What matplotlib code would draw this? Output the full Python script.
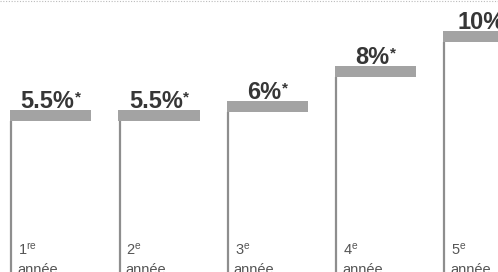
import numpy as np
import matplotlib
matplotlib.use('Agg')
import matplotlib.pyplot as plt
import matplotlib.transforms as mtransforms

# tweak matplotlib settings
plt.rcParams['font.family'] = 'Liberation Sans'
plt.rcParams['mathtext.fontset'] = 'custom'
plt.rcParams['mathtext.rm'] = 'Liberation Sans'
plt.rcParams['mathtext.it'] = 'Liberation Sans'

# data
years = [1, 2, 3, 4, 5]
suffixes = ['re', 'e', 'e', 'e', 'e']
rates = np.array([5.5, 5.5, 6, 8, 10])
value_labels = ['5.5%', '5.5%', '6%', '8%', '10%']

# layout
x = np.arange(len(years)) * 1.0
width = 0.75
cap = 0.62
base = -5.0

fig = plt.figure(figsize=(4.98, 2.72), dpi=100)
ax = fig.add_axes([0, 0, 1, 1])
ax.set_xlim(-0.092, 4.506)
ax.set_ylim(-3.7, 11.75)
ax.axis('off')

# thin left edge of each column
ax.vlines(x + 0.012, base, rates - cap, color='#8e8e8e', lw=1.6)
# thick grey cap on top
ax.bar(x, cap, width=width, bottom=rates - cap, align='edge', color='#a3a3a3', lw=0)

# value labels above caps: number in bold plus a small raised asterisk
renderer = fig.canvas.get_renderer()
for xi, r, s in zip(x, rates, value_labels):
    num = ax.annotate(s, (xi + width / 2, r), xytext=(0, 1.6), textcoords='offset points',
                      ha='left', va='baseline', fontsize=17, fontweight='bold', color='#363636')
    star = ax.annotate('*', (xi + width / 2, r), xytext=(0, 6.5), textcoords='offset points',
                       ha='left', va='baseline', fontsize=11, fontweight='bold', color='#363636')
    wn = num.get_window_extent(renderer).width * 72 / fig.dpi
    ws = star.get_window_extent(renderer).width * 72 / fig.dpi
    left = -(wn + ws) / 2
    num.xyann = (left, 1.6)
    star.xyann = (left + wn + 0.3, 6.5)

# year labels at the bottom
trans = mtransforms.blended_transform_factory(ax.transData, ax.transAxes)
for xi, yr, suf in zip(x, years, suffixes):
    ax.text(xi + 0.075, 0.0625, r'%d$^{\mathrm{%s}}$' % (yr, suf), transform=trans,
            ha='left', va='baseline', fontsize=10.5, color='#555555')
    ax.text(xi + 0.065, -0.008, 'année', transform=trans,
            ha='left', va='baseline', fontsize=10.5, color='#555555')

# dotted line at the top
ax.axhline(11.68, color='#bbbbbb', lw=0.8, ls=(0, (1, 1.5)))

plt.savefig('out.png', dpi=100)
